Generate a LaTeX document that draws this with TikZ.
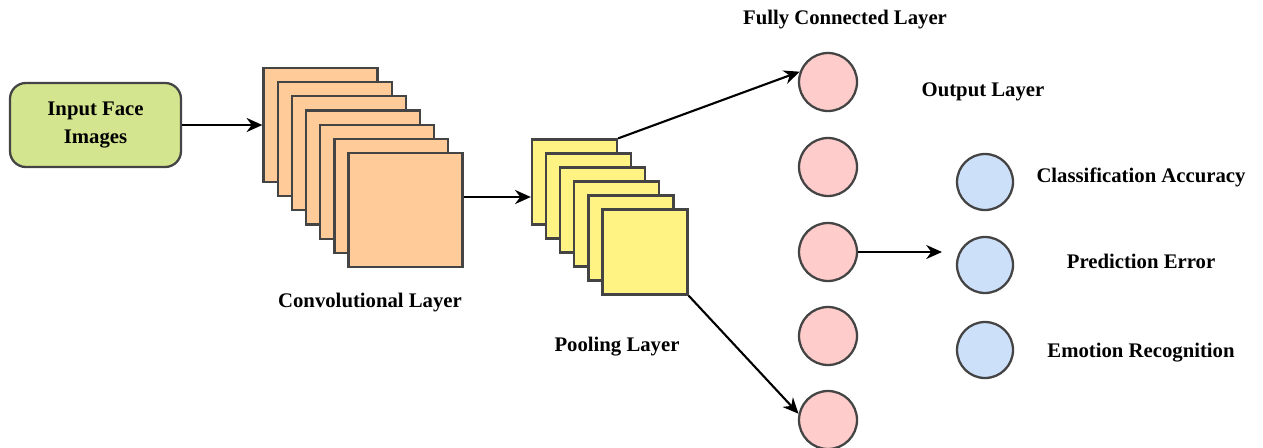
\documentclass[tikz,border=0pt]{standalone}
\usepackage{fontspec}
\setmainfont{Liberation Serif}
\usetikzlibrary{arrows.meta}

\definecolor{inputgreen}{HTML}{D3E68F}
\definecolor{convorange}{HTML}{FFCC99}
\definecolor{poolyellow}{HTML}{FFF383}
\definecolor{fcpink}{HTML}{FFCCCC}
\definecolor{outblue}{HTML}{CCE0FA}
\definecolor{edgegray}{HTML}{444444}

\tikzset{
  inputbox/.style={draw=edgegray,line width=1.3pt,fill=inputgreen,rounded corners=9pt,
    minimum width=3.42cm,minimum height=1.68cm,align=center,font=\bfseries\fontsize{11.8}{15.5}\selectfont},
  convbox/.style={draw=edgegray,line width=1.3pt,fill=convorange,minimum size=2.28cm,inner sep=0pt},
  poolbox/.style={draw=edgegray,line width=1.3pt,fill=poolyellow,minimum size=1.7cm,inner sep=0pt},
  fcnode/.style={circle,draw=edgegray,line width=1.3pt,fill=fcpink,minimum size=1.16cm,inner sep=0pt},
  outnode/.style={circle,draw=edgegray,line width=1.3pt,fill=outblue,minimum size=1.12cm,inner sep=0pt},
  lbl/.style={font=\bfseries\fontsize{11.8}{14.2}\selectfont,inner sep=0pt},
  arr/.style={line width=1.2pt,-{Stealth[length=9pt,width=8pt]}}
}

\begin{document}
\begin{tikzpicture}[x=0.02cm,y=-0.02cm]
\useasboundingbox (0,0) rectangle (1263,447);
%
\node[inputbox] (input) at (95.5,125) {Input Face\\Images};
%
\foreach \i in {1,...,7}
  \node[convbox] (conv\i) at ({320.5+(\i-1)*14.17},{125+(\i-1)*14.17}) {};
\node[lbl] (convlabel) at (370,303) {Convolutional Layer};
%
\foreach \i in {1,...,6}
  \node[poolbox] (pool\i) at ({574.5+(\i-1)*14.1},{182+(\i-1)*14}) {};
\node[lbl] (poollabel) at (617,347) {Pooling Layer};
%
\foreach \y [count=\i] in {82,167,252,336,420}
  \node[fcnode] (fc\i) at (828,\y) {};
\node[lbl] (fclabel) at (845,20) {Fully Connected Layer};
%
\foreach \y/\ty/\t [count=\i] in {182/177/Classification Accuracy,265/261/Prediction Error,350/353/Emotion Recognition}{
  \node[outnode] (out\i) at (985,\y) {};
  \node[lbl] (outtext\i) at (1141,\ty) {\t};
}
\node[lbl] (outlabel) at (983,92) {Output Layer};
%
\coordinate (convpool) at (497,197);
\coordinate (fcout) at (942,252);
\draw[arr] (input.east) -- (conv1.west);
\draw[arr] (conv7.east |- convpool) -- (pool1.west |- convpool);
\draw[arr] (pool1.north east) -- (fc1.160);
\draw[arr] (pool6.south east) -- (fc5.168);
\draw[arr] (fc3.east) -- (fcout);
\end{tikzpicture}
\end{document}
